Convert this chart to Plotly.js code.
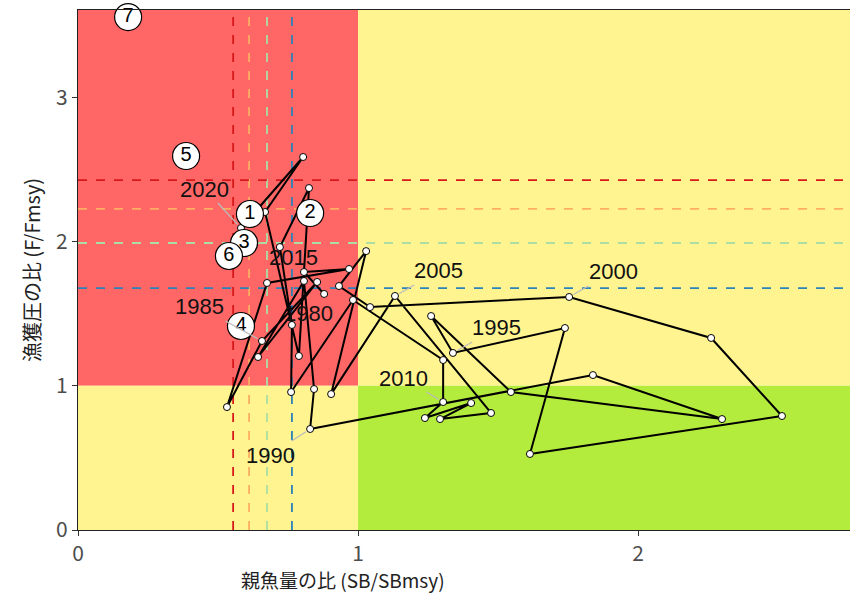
<!DOCTYPE html>
<html>
<head>
<meta charset="utf-8">
<script src="https://cdn.plot.ly/plotly-3.0.1.min.js"></script>
<style>html,body{margin:0;padding:0;background:#fff;}#chart{width:850px;height:596px;}</style>
</head>
<body>
<div id="chart"></div>
<script>
// Trajectory data (1980-2020)
const years = [1980,1981,1982,1983,1984,1985,1986,1987,1988,1989,1990,1991,1992,1993,1994,1995,1996,1997,1998,1999,2000,2001,2002,2003,2004,2005,2006,2007,2008,2009,2010,2011,2012,2013,2014,2015,2016,2017,2018,2019,2020];
const sbRatio = [0.879,0.807,0.968,0.675,0.532,0.657,0.854,0.643,0.807,0.843,0.829,1.839,2.300,1.546,1.261,1.339,1.739,1.614,2.514,2.261,1.754,1.043,0.932,1.029,0.904,1.132,1.475,1.293,1.404,1.239,1.304,1.304,0.982,0.761,0.764,0.721,0.825,0.789,0.668,0.804,0.582];
const fRatio  = [1.636,1.788,1.809,1.712,0.852,1.310,1.719,1.199,1.726,0.977,0.700,1.074,0.769,0.956,1.483,1.227,1.400,0.527,0.790,1.331,1.615,1.545,1.691,1.933,0.942,1.622,0.811,0.769,0.880,0.776,0.887,1.178,1.594,0.956,1.421,1.961,2.370,1.206,2.204,2.585,2.093];

// Labelled years
const labelYears = [1980,1985,1990,1995,2000,2005,2010,2015,2020];

// Reference lines
const refSB = [0.554,0.611,0.675,0.764];
const refF  = [2.425,2.225,1.989,1.677];
const refColors = ['#D7191C','#FDAE61','#ABDDA4','#2B83BA'];

// Numbered markers
const numLabels = ['1','2','3','4','5','6','7'];
const numX = [0.614,0.829,0.593,0.582,0.386,0.539,0.179];
const numY = [2.190,2.197,1.989,1.414,2.592,1.899,3.555];

const xMax = 2.757, yMax = 3.604;

const shapes = [
  {type:'rect',layer:'below',xref:'x',yref:'y',x0:0,x1:1,y0:1,y1:yMax,fillcolor:'#FF6666',line:{width:0}},
  {type:'rect',layer:'below',xref:'x',yref:'y',x0:0,x1:1,y0:0,y1:1,fillcolor:'#FFF490',line:{width:0}},
  {type:'rect',layer:'below',xref:'x',yref:'y',x0:1,x1:xMax,y0:1,y1:yMax,fillcolor:'#FFF490',line:{width:0}},
  {type:'rect',layer:'below',xref:'x',yref:'y',x0:1,x1:xMax,y0:0,y1:1,fillcolor:'#B4EC3E',line:{width:0}}
];
refSB.forEach((v,i)=>shapes.push({type:'line',layer:'below',xref:'x',yref:'y',x0:v,x1:v,y0:0,y1:yMax,line:{color:refColors[i],width:1.8,dash:'dash'}}));
refF.forEach((v,i)=>shapes.push({type:'line',layer:'below',xref:'x',yref:'y',x0:0,x1:xMax,y0:v,y1:v,line:{color:refColors[i],width:1.8,dash:'dash'}}));

// label offsets (pixels) for year labels
const labelOffsets = {1980:[-16,20,false],1985:[-62,-34,true],1990:[-40,26,true],1995:[44,-25,true],2000:[44,-25,true],2005:[44,-25,true],2010:[-40,-24,true],2015:[14,10,false],2020:[-36,-39,true]};

const annotations = [];
labelYears.forEach(yr=>{
  const i = years.indexOf(yr);
  const o = labelOffsets[yr];
  if (o[2]) {
    annotations.push({x:sbRatio[i],y:fRatio[i],xref:'x',yref:'y',text:String(yr),showarrow:true,arrowhead:0,arrowwidth:1.3,arrowcolor:'#BBBBBB',ax:o[0],ay:o[1],standoff:5,font:{family:'Liberation Sans, Arial, sans-serif',size:22,color:'#111'}});
  } else {
    annotations.push({x:sbRatio[i],y:fRatio[i],xref:'x',yref:'y',text:String(yr),showarrow:false,xshift:o[0],yshift:-o[1],font:{family:'Liberation Sans, Arial, sans-serif',size:22,color:'#111'}});
  }
});
annotations.push({xref:'paper',yref:'paper',x:0.343,y:0,yanchor:'middle',xanchor:'center',yshift:-49,showarrow:false,text:'親魚量の比 (SB/SBmsy)',font:{family:'Noto Sans CJK JP, sans-serif',size:19,color:'#222'}});

const traces = [
  {x:sbRatio,y:fRatio,mode:'lines+markers',type:'scatter',line:{color:'#000',width:2},marker:{size:7,color:'#fff',line:{color:'#000',width:1}},hoverinfo:'none',cliponaxis:false},
  {x:numX,y:numY,mode:'markers+text',type:'scatter',text:numLabels,textposition:'middle center',textfont:{family:'Liberation Sans, Arial, sans-serif',size:20,color:'#000'},marker:{size:27,color:'#fff',line:{color:'#000',width:1.2}},hoverinfo:'none',cliponaxis:false}
];

const layout = {
  width:850,height:596,
  margin:{l:78,r:0,t:10,b:66},
  paper_bgcolor:'#fff',plot_bgcolor:'#fff',
  showlegend:false,
  xaxis:{range:[0,xMax],tickvals:[0,1,2],ticktext:['0','1','2'],ticks:'outside',ticklen:5,tickcolor:'#333',showgrid:false,zeroline:false,showline:true,linecolor:'#222',linewidth:1.2,mirror:true,tickfont:{family:'Noto Sans CJK JP, sans-serif',size:21,color:'#4D4D4D'}},
  yaxis:{range:[0,yMax],tickvals:[0,1,2,3],ticktext:['0','1','2','3'],ticks:'outside',ticklen:5,tickcolor:'#333',showgrid:false,zeroline:false,showline:true,linecolor:'#222',linewidth:1.2,mirror:true,tickfont:{family:'Noto Sans CJK JP, sans-serif',size:21,color:'#4D4D4D'},title:{text:'漁獲圧の比 (F/Fmsy)',standoff:10,font:{family:'Noto Sans CJK JP, sans-serif',size:20,color:'#222'}}},
  shapes:shapes,
  annotations:annotations
};

Plotly.newPlot('chart',traces,layout,{displayModeBar:false,staticPlot:true});
</script>
</body>
</html>
